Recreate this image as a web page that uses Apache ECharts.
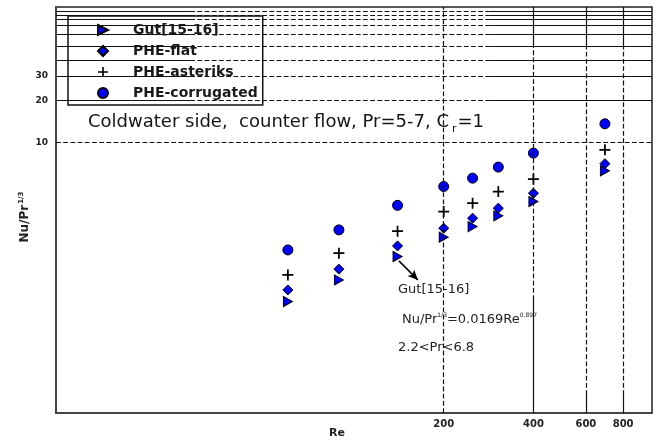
<!DOCTYPE html>
<html>
<head>
<meta charset="utf-8">
<script src="https://cdn.jsdelivr.net/npm/echarts@6/dist/echarts.min.js"></script>
<style>
  html, body { margin: 0; padding: 0; background: #fff; }
  #chart { width: 661px; height: 448px; }
</style>
</head>
<body>
<div id="chart"></div>
<script>
// Re of the eight measurement columns
const reynolds = [60, 89, 140, 200, 250, 305, 400, 695];

// Nu/Pr^1/3
const gut = [0.725, 1.037, 1.523, 2.099, 2.498, 2.982, 3.776, 6.27];
const pheFlat = [0.879, 1.238, 1.817, 2.434, 2.871, 3.386, 4.338, 7.05];
const pheAsteriks = [1.126, 1.611, 2.317, 3.201, 3.678, 4.455, 5.465, 8.865];
const pheCorrugated = [1.70, 2.366, 3.547, 4.836, 5.555, 6.665, 8.395, 13.62];

const seriesNames = ['Gut[15-16]', 'PHE-flat', 'PHE-asteriks', 'PHE-corrugated'];

// axis labels
const xTickLabels = [200, 400, 600, 800];
const yTickLabels = [10, 20, 30];

// extra horizontal grid lines near the top of the plot
const yGridValues = [20, 30, 39, 49, 60, 69, 76, 81, 87];

const X_MIN = 10, X_MAX = 1000;
const Y_MIN = 0.1154, Y_MAX = 93.5;

const FONT = 'DejaVu Sans';
const BLUE = '#0000ff';

const triPath = 'path://M0,0L10,5L0,10Z';
const diamondPath = 'path://M5,0L10,5L5,10L0,5Z';
const plusPath = 'path://M4.2,0h1.6v4.2h4.2v1.6h-4.2v4.2h-1.6v-4.2h-4.2v-1.6h4.2z';

function pairs(ys) {
  return reynolds.map((re, i) => [re, ys[i]]);
}

// grid line segments, in data coordinates
const gridSegments = [];
function seg(x1, y1, x2, y2, type) {
  const ls = { type: type, color: '#111', width: 1.2 };
  gridSegments.push([{ coord: [x1, y1], lineStyle: ls }, { coord: [x2, y2], lineStyle: ls }]);
}
// the 10 line is dashed all across
seg(X_MIN, 10, X_MAX, 10, 'dashed');
yGridValues.forEach(v => {
  seg(X_MIN, v, 28.2, v, 'solid');
  seg(28.2, v, 285.5, v, 'dashed');
  seg(285.5, v, X_MAX, v, 'solid');
});
// vertical lines
seg(200, Y_MIN, 200, Y_MAX, 'dashed');
seg(400, 48.5, 400, Y_MAX, 'solid');
seg(400, 0.745, 400, 48.5, 'dashed');
seg(400, Y_MIN, 400, 0.745, 'solid');
[600, 800].forEach(x => {
  seg(x, 48.5, x, Y_MAX, 'solid');
  seg(x, 0.1553, x, 48.5, 'dashed');
  seg(x, Y_MIN, x, 0.1553, 'solid');
});

const chart = echarts.init(document.getElementById('chart'), null, { renderer: 'canvas' });

const markerStyle = { color: BLUE, borderColor: '#000', borderWidth: 1, opacity: 1 };

const option = {
  animation: false,
  backgroundColor: '#fff',
  title: {
    left: 88,
    top: 110,
    padding: 0,
    text: '{m|Coldwater side,  counter flow, Pr=5-7, C}{s|r}{m|=1}',
    textStyle: {
      fontWeight: 'normal',
      rich: {
        m: { fontFamily: FONT, fontWeight: 'normal', fontSize: 18, color: '#151515' },
        s: { fontFamily: FONT, fontWeight: 'normal', fontSize: 11, color: '#151515', padding: [14, 1, 0, 3] }
      }
    }
  },
  legend: {
    orient: 'vertical',
    left: 68,
    top: 16,
    padding: [7, 5, 5, 29],
    itemWidth: 50,
    itemHeight: 10,
    itemGap: 7,
    backgroundColor: '#fff',
    borderColor: '#111',
    borderWidth: 1.5,
    borderRadius: 0,
    textStyle: { fontFamily: FONT, fontWeight: 'bold', fontSize: 14, lineHeight: 14, color: '#1a1a1a' },
    data: [
      { name: seriesNames[0], icon: triPath },
      { name: seriesNames[1], icon: diamondPath },
      { name: seriesNames[2], icon: plusPath },
      { name: seriesNames[3], icon: 'circle' }
    ]
  },
  grid: {
    left: 56, right: 9, top: 7, bottom: 35,
    show: true,
    borderColor: '#222',
    borderWidth: 1.5
  },
  xAxis: {
    type: 'log',
    min: X_MIN,
    max: X_MAX,
    axisLine: { lineStyle: { color: '#444', width: 2 } },
    axisTick: { show: false },
    splitLine: { show: false },
    axisLabel: {
      customValues: xTickLabels,
      margin: 6,
      fontFamily: FONT,
      fontWeight: 'bold',
      fontSize: 10,
      color: '#222'
    }
  },
  yAxis: {
    type: 'log',
    min: Y_MIN,
    max: Y_MAX,
    axisLine: { lineStyle: { color: '#444', width: 2 } },
    axisTick: { show: false },
    splitLine: { show: false },
    axisLabel: {
      customValues: yTickLabels,
      margin: 8,
      fontFamily: FONT,
      fontWeight: 'bold',
      fontSize: 9,
      color: '#222'
    }
  },
  graphic: [
    {
      type: 'text', x: 25, y: 217, rotation: Math.PI / 2,
      style: {
        text: '{b|Nu/Pr}{p|1/3}',
        align: 'center', verticalAlign: 'middle',
        rich: {
          b: { fontFamily: FONT, fontWeight: 'bold', fontSize: 12, fill: '#222' },
          p: { fontFamily: FONT, fontWeight: 'bold', fontSize: 7, fill: '#222', padding: [0, 0, 8, 1] }
        }
      }
    },
    {
      type: 'text', x: 337, y: 433,
      style: { text: 'Re', align: 'center', verticalAlign: 'middle', fontFamily: FONT, fontWeight: 'bold', fontSize: 11, fill: '#222' }
    },
    {
      type: 'text', x: 398, y: 290,
      style: { text: 'Gut[15-16]', verticalAlign: 'middle', fontFamily: FONT, fontSize: 13, fill: '#222' }
    },
    {
      type: 'text', x: 402, y: 320,
      style: {
        text: '{a|Nu/Pr}{p|1/3}{a|=0.0169Re}{p|0.897}',
        verticalAlign: 'middle',
        rich: {
          a: { fontFamily: FONT, fontSize: 13, fill: '#222' },
          p: { fontFamily: FONT, fontSize: 6, fill: '#222', padding: [0, 0, 9, 0] }
        }
      }
    },
    {
      type: 'text', x: 398, y: 348,
      style: { text: '2.2<Pr<6.8', verticalAlign: 'middle', fontFamily: FONT, fontSize: 13, fill: '#222' }
    }
  ],
  series: [
    {
      name: 'grid',
      type: 'scatter',
      data: [],
      z: 1,
      silent: true,
      markLine: {
        silent: true,
        symbol: ['none', 'none'],
        label: { show: false },
        emphasis: { disabled: true },
        data: gridSegments
      }
    },
    {
      name: 'arrow',
      type: 'scatter',
      data: [],
      z: 4,
      silent: true,
      markLine: {
        silent: true,
        symbol: ['none', 'arrow'],
        symbolSize: [7, 10],
        label: { show: false },
        lineStyle: { color: '#000', width: 1.5, type: 'solid' },
        data: [[{ coord: [141.5, 1.419] }, { coord: [163.8, 1.037] }]]
      }
    },
    {
      name: seriesNames[3], type: 'scatter', z: 3,
      symbol: 'circle', symbolSize: 10,
      itemStyle: markerStyle,
      data: pairs(pheCorrugated)
    },
    {
      name: seriesNames[2], type: 'scatter', z: 3,
      symbol: plusPath, symbolSize: 11,
      itemStyle: { color: '#000', borderWidth: 0, opacity: 1 },
      data: pairs(pheAsteriks)
    },
    {
      name: seriesNames[1], type: 'scatter', z: 3,
      symbol: diamondPath, symbolSize: 10,
      itemStyle: markerStyle,
      data: pairs(pheFlat)
    },
    {
      name: seriesNames[0], type: 'scatter', z: 3,
      symbol: triPath, symbolSize: [9, 10],
      itemStyle: markerStyle,
      data: pairs(gut)
    }
  ]
};

chart.setOption(option);
window.addEventListener('resize', chart.resize);
</script>
</body>
</html>
